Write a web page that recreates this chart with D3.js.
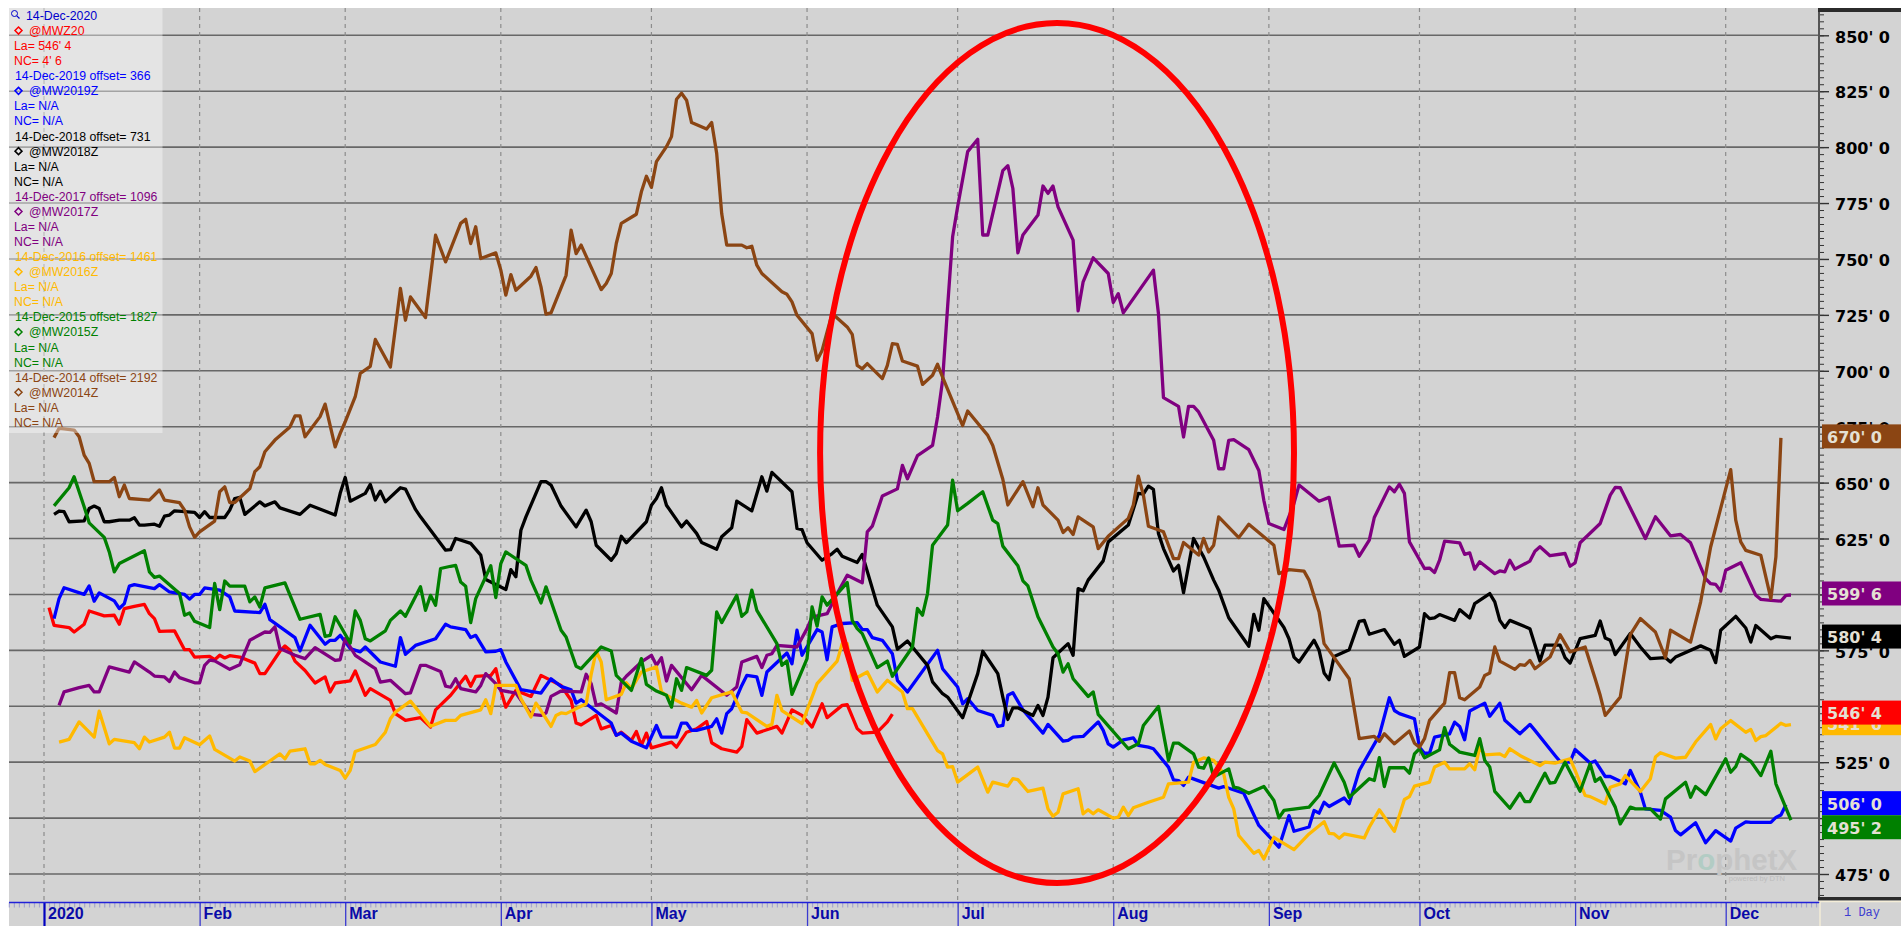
<!DOCTYPE html>
<html>
<head>
<meta charset="utf-8">
<title>Spring wheat seasonal chart</title>
<script src="https://cdn.jsdelivr.net/npm/d3@7"></script>
<style>
html, body { margin: 0; padding: 0; background: #fff; overflow: hidden; }
svg { display: block; }
</style>
</head>
<body>
<div id="chart"></div>
<script>
// days are counted from 1 Jan 2020, prices are cents/bushel
var monthDays = [0, 31, 60, 91, 121, 152, 182, 213, 244, 274, 305, 335];
var monthLabels = ['2020', 'Feb', 'Mar', 'Apr', 'May', 'Jun', 'Jul', 'Aug', 'Sep', 'Oct', 'Nov', 'Dec'];

var priceTicks = [475, 500, 525, 550, 575, 600, 625, 650, 675, 700, 725, 750, 775, 800, 825, 850];
// these two sit fully behind the last value tags
var hiddenPriceLabels = [500, 600];

var redDays = [1,2,5,6,8,9,12,14,15,16,18,20,21,22,23,26,28,29,30,33,34,35,36,37,39,42,43,44,47,48,49,50,52,54,56,57,58,61,62,64,65,69,70,72,75,77,78,81,84,85,86,89,90,91,92,94,97,99,103,105,106,107,110,111,113,114,115,117,118,119,120,121,125,126,128,130,132,133,135,138,139,140,142,146,147,149,151,153,155,156,159,160,162,163,166,168,169];
var redPrices = [594.1,586.2,585.2,583.2,586.7,592.6,590.4,590.7,586.7,593.7,594.7,595.5,591.4,589.2,583.5,583.7,575.3,575.3,572,572.3,570.8,572.8,571.6,572.6,572,569.3,564.6,564.6,574.6,577,575,570.2,566,560.4,563.1,556.4,560.4,561.3,565.8,554.9,557.9,552.6,546.7,543.7,544.9,540.7,548.4,554.9,563.4,558.9,563.4,563.8,566.8,557.1,549.6,557.1,554.4,563.8,559.3,552.6,542.5,541.7,545.9,539.9,541.4,537,538.4,534.7,538.7,532.5,538,531.4,534,531.7,538.4,539.9,543.2,533.7,531,529.5,532,544,538,541,538,548.4,545.9,540.7,551.1,544.9,550.4,550.7,540,538,538.4,543,546.5];

var blueDays = [2,3,4,8,9,10,11,14,15,16,17,18,22,23,25,28,29,30,31,32,35,37,38,43,44,45,50,51,53,56,57,58,59,61,63,64,67,70,71,72,74,78,80,81,84,85,86,88,90,91,92,95,99,101,103,105,106,107,113,114,115,117,120,122,123,126,127,128,129,130,133,134,135,136,137,139,140,142,143,144,148,149,150,151,154,155,156,157,159,162,163,164,165,167,169,170,172,178,179,182,183,184,186,189,190,191,192,193,195,199,200,203,204,205,207,210,211,212,213,215,217,218,220,221,224,225,226,227,228,234,235,239,242,246,248,249,252,253,254,255,256,259,260,262,266,268,269,270,273,274,275,276,277,280,281,282,283,284,287,288,290,291,294,296,297,301,302,304,305,308,309,311,312,314,315,316,318,319,322,324,325,326,329,331,333,336,337,339,340,344,345,346,347];
var bluePrices = [589.2,598.1,603,600,603.8,597,600.7,597.1,593.7,595.9,603.7,604.4,602.6,604.4,601.1,600,597.9,600,600,602.9,601.9,598.9,592.6,591.9,595.6,588.7,580.7,574.7,586.2,577.7,579.5,579.5,581.7,575.8,574.3,576.5,569.8,567.9,580.7,573.2,577.2,580.2,586.7,585.5,584.3,580.7,581.7,574.3,574.6,575.3,569.8,557.4,555.9,562.3,558.9,557.4,551.4,552.9,542.5,537,538,534.4,531.4,541.4,536.2,536.2,542.5,542.5,539.2,539.2,541,544.4,538,546.7,548.9,559.3,563.8,563.1,554.9,565.3,573.8,569,584,572.8,584.3,583.2,570.8,585.5,587,587.4,584.3,584.3,580.7,579.5,573.5,561.6,556.4,575,566.8,558.6,551.1,553.4,548.1,545.9,541,541.4,554.9,556.1,548.4,538,541.9,534.4,534.7,536.2,536.5,543,539.2,533.2,531.7,535,535.9,532.5,531.7,531,522.8,517.1,516.8,514.6,518.3,513.4,514.1,511.1,496.7,487,501.1,494.1,496,503.4,502.2,507.1,505.2,509,506.4,521.3,537,553.8,548.1,546.7,544.4,531.7,529,529,536.2,537.7,542.9,541,535,547.9,551.4,545.5,551.4,543.7,537.7,541.9,539.2,528,525.3,525,530.7,524.6,525.5,518.6,518.6,516.5,515.3,521.3,511.6,504.1,503.4,500.4,494.4,492.5,497.9,489,494.4,489.7,495.5,498.3,498.1,498.1,500.3,501.4,506];

var blackDays = [2,3,4,5,8,9,10,11,12,13,15,17,18,19,20,22,23,24,25,26,30,31,32,33,36,37,38,39,40,43,44,46,47,51,53,58,59,60,61,64,65,66,67,68,71,72,74,75,80,81,82,85,87,88,92,93,94,95,96,99,100,101,103,106,108,109,110,113,114,115,116,120,121,122,123,124,127,128,130,131,134,135,137,138,141,143,144,145,149,150,151,152,155,157,158,159,162,163,166,169,170,172,176,177,179,180,183,186,187,190,191,192,193,194,197,198,199,200,201,204,205,206,207,208,211,212,216,218,219,220,221,222,223,225,226,227,229,231,233,234,236,240,241,242,243,247,248,249,250,253,254,255,256,257,260,261,262,263,264,267,269,270,271,274,275,276,277,278,281,282,284,285,288,289,290,291,292,296,298,299,302,303,304,306,309,310,311,312,313,316,318,320,323,324,325,330,332,333,334,337,339,340,341,344,345,348];
var blackPrices = [635.8,637.3,637,632.5,632.9,638.4,639.5,638.4,632.5,632.5,633.2,633.2,634.3,631,631,631.4,630.5,635,635.5,637.4,636.7,634.4,637,634.4,634.4,637.7,642.9,643.4,635.8,641.4,639.6,641.4,638.7,635.8,639.9,635.5,645.2,652.3,641.7,645.2,649.2,642.2,646.2,641.4,647.7,647.1,638,634.7,619.8,620,625,622.8,617.6,606.7,602.2,611.1,607.9,628.7,634.7,650.4,650.4,648.9,639.5,630.2,637.7,632.5,622,615.3,618.3,626,623.1,632.5,639.9,642.9,647.7,639.9,630.2,632.8,627.3,623.2,620.2,625.8,629.8,641.7,637.4,652.6,646.2,654.6,645.9,629.5,629,623.1,615.3,618.3,620.2,617.1,614.3,617.9,595.2,585.5,575.5,579.2,568.3,560.9,555.6,554.1,544.9,564.6,574.6,564.6,554.1,544.1,549.3,549.3,545.9,550.4,545.9,554.1,571.7,578,572.8,602.6,601.6,606.4,615,623.5,631,645.2,644.9,648.4,647,627.3,620.5,610.5,613,600.8,625,616.8,606.4,601.9,589.6,576.8,591.1,584,598.1,585.2,580.2,572,569.8,579.5,575,564.9,561.9,572.3,575.3,581.7,588,588.4,582.2,584.3,577.7,579.5,572.3,576.5,591.4,589.2,589.5,591,588.4,593.2,589.5,595.9,600.4,596.7,588.4,585.2,588.4,584.7,570.2,577.3,577.3,571.7,569.3,580.2,581.7,588.1,580.5,579.5,573.1,582.5,576.5,571.3,571.7,569.8,572,577,575,569.5,584,590.2,585,578.7,586.1,580.2,581.2,580.5];

var purpleDays = [3,4,7,9,10,11,13,17,18,21,22,24,25,26,27,30,31,32,33,34,37,39,41,44,45,46,47,50,52,54,58,59,60,62,66,67,69,72,73,75,76,79,80,81,82,83,86,87,88,90,91,94,97,99,100,101,103,107,108,109,110,111,114,115,116,119,121,122,123,124,125,129,131,136,138,139,142,143,144,145,146,150,152,153,156,158,160,163,164,165,167,170,171,172,174,177,178,179,180,181,182,184,186,187,188,191,192,193,194,195,198,199,200,201,202,205,206,207,209,212,213,214,215,221,222,223,226,227,228,229,230,233,234,235,236,237,240,242,243,244,247,249,250,254,256,258,261,262,264,265,268,269,270,271,272,275,276,277,278,279,282,283,284,285,286,289,290,291,292,293,296,297,298,300,303,304,305,306,310,312,313,314,319,321,324,326,328,331,332,333,334,335,338,341,342,344,346,347,348];
var purplePrices = [550.4,556.4,558.3,559.3,556.4,556.4,567.6,565.3,569.8,565.3,563.5,563.1,561.1,565.3,562.8,560.5,560.5,568.3,570.6,570.3,566.5,568.6,579.5,583.2,583,585.5,575.8,572.8,571.3,576.2,570.5,570.8,580.2,572.8,566.8,560.8,561.6,555.6,556,568.3,568.3,565.5,559,558.5,562.3,557.9,556.4,559.3,564.6,560.1,557.1,555.9,546.4,545.9,547,554.4,556.8,556.4,564.3,560.1,550.4,551.1,547,560.8,563.4,569.8,572.8,568.3,571.7,561.3,568.3,557.4,563.8,554.9,558.6,569.8,572.3,567.3,572.8,573.5,577.2,576.5,584.7,589.9,591.4,600.4,608.6,605.2,628,630.5,644,647.2,657.7,651.7,662.1,666.6,679.3,695.7,728.6,759.9,773.3,798,803.5,760.7,760.7,789.5,791.7,781.5,752.7,760.7,769.6,782.6,779.3,782.6,773.3,758.4,726.8,739.8,750.5,743.5,730.5,734.5,725.9,745,725.6,688,684.1,670.4,684.1,684.1,681.6,668.9,656.2,656.2,668.9,669.2,664.7,655.4,642,631.7,629,640.7,648.9,641.7,643.4,621.6,622,617.1,624.3,634.4,648.1,645.9,649.3,645.2,623.5,611.6,611.8,609.8,615.3,623.8,623.1,617.9,618.6,611.3,614.6,609.3,610.5,610.1,615.3,611.3,614.9,619.3,621.3,617.3,618.3,612.6,614.1,623.1,631.7,644.4,647.9,647.7,625,634.7,626.2,626.8,623.1,607,604.8,604.5,601.5,610.8,614.2,599.6,597.8,597.3,597,599.6,599.75];

var yellowDays = [3,5,7,10,11,13,14,18,19,20,21,24,25,26,27,28,31,33,34,38,39,41,42,47,48,49,52,53,54,55,56,59,60,61,62,66,68,69,70,73,75,77,80,82,83,87,88,89,90,94,95,97,98,99,101,102,103,104,108,109,110,111,112,115,116,117,119,122,123,124,127,129,130,131,133,137,139,140,144,145,146,147,151,154,158,159,160,161,164,166,168,171,172,173,178,179,180,181,182,186,188,189,192,193,194,196,199,200,201,202,203,206,207,208,209,210,213,214,215,216,217,220,223,224,228,229,231,233,235,236,237,238,241,242,243,245,249,252,255,256,257,258,259,263,264,266,269,271,272,273,276,277,279,280,283,284,285,286,287,290,291,292,294,298,299,301,304,305,307,308,311,312,314,315,318,320,321,322,325,327,329,332,333,334,336,339,340,341,342,343,346,347,348];
var yellowPrices = [534,535.2,543,536.2,547.8,533.2,535.2,533.7,531,536.2,534,536.2,538.4,531.3,531.3,535.9,532.8,536.7,530.7,525.5,527.3,525.5,520.8,528.7,526.5,529.9,531,524.3,524.3,525.8,524,521.3,517.9,521.3,529.8,532.9,538.4,544.4,547.4,552.3,546.7,541.1,543.7,543.7,545.9,548.4,552.9,546.7,559.3,559.3,553.4,545.2,551.4,548.1,541,545.9,547,546.7,551.1,564.3,574.6,569.8,552.9,555.3,560.5,557.9,565.3,567.6,556.4,554.9,551.4,549.6,552.6,547,553.8,556.4,547.4,547,541,541.9,554.9,548.1,542.2,560.1,570.2,578,578,561.6,565.3,556.4,561.6,556.4,548.9,548.9,530.2,528.7,522.8,523,516.1,522.8,511.6,516.1,514.3,517.6,517.2,511.9,513.4,504.1,500.8,502.6,510.8,513.1,501.9,503.7,501.9,503.7,500,500.4,504.9,501.1,504.6,507.1,509.3,515.3,516.1,525,526.9,525.8,519.8,509.3,504.1,492.2,484.3,485.5,481.7,491.4,485.9,492.9,498.4,493.2,492.9,491,492.9,491.1,495.9,503.7,494.1,508.3,509.6,514.3,516.1,522.8,525,522,522,524.3,521.6,531.7,528.3,528.7,527.5,531,528,523.5,525,524.6,526.5,521.3,510.1,509.6,506.4,513.8,515.3,519,511.9,517.6,527.3,529.2,526.8,527.2,534,541.8,535.4,539.9,543.6,538.4,539.6,534.7,536.4,536.9,542.4,541.4,541.75];

var greenDays = [2,5,6,8,9,12,13,14,15,20,21,22,23,27,28,29,30,33,34,35,36,37,40,41,42,43,44,48,51,55,56,57,58,61,62,63,64,65,68,69,71,72,75,76,77,78,79,81,82,83,84,85,86,89,90,91,92,96,97,99,100,103,104,106,107,111,113,114,117,119,120,122,124,125,126,127,128,132,133,134,135,138,139,140,141,142,146,147,148,149,152,153,154,155,156,160,161,162,163,166,168,169,173,174,175,176,177,180,181,182,184,187,189,190,191,194,195,196,198,201,202,203,204,205,208,209,210,216,218,219,222,224,225,226,229,230,231,232,233,236,237,238,240,243,245,246,247,252,254,257,259,260,264,265,266,267,268,271,272,273,274,275,278,279,280,282,285,286,287,288,289,292,294,295,296,299,300,301,303,306,308,309,310,313,314,316,317,320,322,323,327,328,329,331,335,336,337,338,340,342,344,345,348];
var greenPrices = [639.6,647.7,652.6,639.2,632,625.5,619,610.1,613.8,619.5,610.1,607.6,608.2,600.4,590.7,591.7,588,585.2,604.9,593.2,606,603.7,603.7,596.7,598.9,594.4,602.9,605.2,588.9,591.1,581.3,581.7,590,578.3,592.6,588.4,580.2,579.2,583.7,588.4,592.6,590.2,603.4,592.9,599.6,595.2,611.6,612.6,613,605.6,603.7,587.4,598.1,612.8,598.6,613.8,619,613,606.4,596.2,603.4,584,581,567.9,566.8,576.5,574.7,563.8,557.1,571.3,559.8,556.8,554.9,549.6,562.3,557.1,567.3,563.8,566.1,592.2,587.4,599.6,590.2,592.2,601.9,592.9,578,568.3,570.2,555.3,571.3,594.4,585.8,598.9,595.2,605.3,588.4,584.7,582.5,567.3,570.2,563.4,576.5,593.7,590.7,600.4,622,631,651.1,637.4,640.7,645.9,633.2,631.7,621.6,612.8,606.1,603.8,590,576.5,573.5,565.3,569,562.3,554.4,556.4,546.4,531,533.2,541.4,549.9,525.8,533.5,533.5,528.7,522.8,522.3,526.9,518.3,522,513.8,513.4,511.1,514.1,507.9,500.1,503.4,504.9,510.1,524.6,516,509.3,517.6,516.8,527,514.1,522.5,522.5,520.1,528.7,531,527,530.5,540.4,533,529.5,528,535.5,525.8,522.8,511.9,504.4,511.1,507.4,507.4,520.1,515.6,516,525,512,524.3,516.4,518,504.9,497.4,504.9,504.1,504.1,499.6,508.6,516,509.3,514.1,510.5,526.5,520.5,523,528.5,525.4,519,529.9,515.3,499.1,495.25];

var brownDays = [2,3,4,6,7,8,9,10,13,14,15,16,17,21,23,24,27,28,29,30,31,34,35,36,37,38,41,42,43,44,46,49,50,51,52,55,56,58,59,60,62,63,65,66,69,71,72,73,76,78,80,83,84,85,86,87,90,91,92,93,94,97,98,99,100,101,104,105,106,107,111,112,113,114,115,118,119,120,121,122,124,125,126,127,128,129,132,133,134,135,136,139,140,141,142,143,147,148,149,150,153,154,155,157,160,161,162,163,164,167,168,169,170,171,174,175,177,178,179,183,184,188,189,191,192,195,197,198,199,202,203,204,205,206,209,210,212,216,217,218,219,220,223,225,226,227,230,231,232,233,234,238,240,245,246,248,251,252,254,255,260,262,265,266,267,269,272,273,274,275,276,279,280,281,282,283,286,287,288,289,290,293,294,295,296,297,300,302,304,307,309,310,311,314,316,318,321,323,324,328,330,332,336,337,338,339,342,344,345,346];
var brownPrices = [670.1,674.3,674,673.5,670.5,662.3,658.6,650.4,650.4,652.3,643.7,648.9,642.9,642.2,646.7,642.2,641,637.7,630.2,625.5,628,632.8,645.9,648.1,641.1,641.1,647.4,654.9,657.1,663.8,669,674.9,679.8,679.8,670.5,679.5,685.1,666,672,677.2,688.4,698.8,702,714,701.7,736.8,722.6,733,723.8,760.6,748.7,765.9,767.7,756.9,764.4,750.2,752.7,745,733.8,743,736,742.3,746.2,737.5,725.3,725.9,742.7,762.9,752.4,756.2,736.3,739,743.5,756.9,765.9,770,780,787,782,793.5,800.2,804.7,821.4,824.1,821,811,808.1,811,797.2,770.3,756.2,756.2,755,755.7,747.2,743.5,735.3,734.2,730.8,724.8,716.6,704.7,709.1,725.6,719.6,716.3,702.4,700.9,703.2,696.5,702.4,712.1,711.8,704.4,702.1,693.9,698,702.9,697.2,675.5,682,671.1,666.6,651.5,640,650.4,639.2,647.7,640,633.2,627.7,629.8,626.8,634.7,630.2,620.5,626,634,640,652.9,644.4,630.5,628,616,616,623.2,617.6,625,619,622,634.7,625.4,631.4,622,609.3,611.1,610.4,606.4,592.2,578,562.3,535.5,536.5,534.3,537.7,533.2,538.9,533.5,531.7,535.5,543.7,551.4,565,565,553.8,552.9,558.6,563.8,564.9,576.5,570.2,566.5,568.6,568.3,570.5,566.8,572,582,574.3,576.5,562.3,554.9,545.9,554.1,582,589.2,583.2,571.7,584,578.7,596.6,621.2,655.8,633.2,623.5,619.7,617.5,598.1,616.8,670];

// the hand drawn ring over the Jun-Sep window
var ringDays = [154.6, 249];
var ringPrices = [855.5, 471];

var lastPrices = [670, 599.75, 580.5, 541.75, 546.5, 506, 495.25];
var lastLabels = ["670' 0", "599' 6", "580' 4", "541' 6", "546' 4", "506' 0", "495' 2"];
var lastColors = ['#8b4513', '#800080', '#000000', '#ffb900', '#ff0000', '#0000ff', '#008000'];

var legendDate = ['14-Dec-2020', '14-Dec-2019 offset= 366', '14-Dec-2018 offset= 731', '14-Dec-2017 offset= 1096', '14-Dec-2016 offset= 1461', '14-Dec-2015 offset= 1827', '14-Dec-2014 offset= 2192'];
var legendSymbol = ['@MWZ20', '@MW2019Z', '@MW2018Z', '@MW2017Z', '@MW2016Z', '@MW2015Z', '@MW2014Z'];
var legendLast = ["La= 546' 4", 'La= N/A', 'La= N/A', 'La= N/A', 'La= N/A', 'La= N/A', 'La= N/A'];
var legendChange = ["NC= 4' 6", 'NC= N/A', 'NC= N/A', 'NC= N/A', 'NC= N/A', 'NC= N/A', 'NC= N/A'];
var legendColors = ['#ff0000', '#0000ff', '#000000', '#800080', '#ffb900', '#008000', '#8b4513'];

var svgWidth = 1901;
var svgHeight = 926;
var bg = '#d3d3d3';

var margin = { left: 9, top: 8, bottom: 29, right: 82 };
var plotRight = svgWidth - margin.right;
var plotBottom = svgHeight - margin.bottom;

var jan1 = Date.UTC(2020, 0, 1);
function dayDate(d) { return new Date(jan1 + d * 864e5); }

var xScale = d3.scaleUtc()
    .domain([dayDate(0), dayDate(335)])
    .range([44, 1725.7]);

var yScale = d3.scaleLinear()
    .domain([475, 850])
    .range([874, 35.3]);

var svg = d3.select('#chart').append('svg')
    .attr('width', svgWidth)
    .attr('height', svgHeight);

svg.append('rect')
    .attr('x', margin.left)
    .attr('y', margin.top)
    .attr('width', svgWidth - margin.left)
    .attr('height', svgHeight - margin.top)
    .attr('fill', bg);

// horizontal grid
svg.append('g').selectAll('line')
    .data(priceTicks)
    .enter().append('line')
    .attr('x1', margin.left)
    .attr('x2', plotRight)
    .attr('y1', d => yScale(d))
    .attr('y2', d => yScale(d))
    .attr('stroke', '#676767')
    .attr('stroke-width', 1.6);

// month grid
svg.append('g').selectAll('line')
    .data(monthDays)
    .enter().append('line')
    .attr('x1', d => xScale(dayDate(d)))
    .attr('x2', d => xScale(dayDate(d)))
    .attr('y1', margin.top)
    .attr('y2', plotBottom + 3)
    .attr('stroke', '#8c8c8c')
    .attr('stroke-width', 1.2)
    .attr('stroke-dasharray', '4,4');

// watermark
var mark = svg.append('text')
    .attr('x', 1666)
    .attr('y', 870)
    .attr('font-family', 'Liberation Sans, Arial, sans-serif')
    .attr('font-weight', 'bold')
    .attr('font-size', 29.5)
    .attr('fill', '#c5c5c5');
mark.append('tspan').text('Pr');
mark.append('tspan').attr('fill', '#b2ccc4').text('o');
mark.append('tspan').text('phetX');

svg.append('text')
    .attr('x', 1785)
    .attr('y', 881)
    .attr('text-anchor', 'end')
    .attr('font-family', 'Liberation Sans, Arial, sans-serif')
    .attr('font-size', 7.5)
    .attr('fill', '#bdbdbd')
    .text('powered by DTN');

// price lines, oldest contract last so it sits on top
var line = d3.line()
    .x(d => xScale(dayDate(d[0])))
    .y(d => yScale(d[1]));

var seriesData = [
    { days: redDays, prices: redPrices, color: '#ff0000' },
    { days: blueDays, prices: bluePrices, color: '#0000ff' },
    { days: blackDays, prices: blackPrices, color: '#000000' },
    { days: purpleDays, prices: purplePrices, color: '#800080' },
    { days: yellowDays, prices: yellowPrices, color: '#ffb900' },
    { days: greenDays, prices: greenPrices, color: '#008000' },
    { days: brownDays, prices: brownPrices, color: '#8b4513' }
];

svg.append('g').selectAll('path')
    .data(seriesData)
    .enter().append('path')
    .attr('d', d => line(d3.zip(d.days, d.prices)))
    .attr('fill', 'none')
    .attr('stroke', d => d.color)
    .attr('stroke-width', 3.3)
    .attr('stroke-linejoin', 'round');

// legend panel is see through
svg.append('rect')
    .attr('x', margin.left)
    .attr('y', margin.top)
    .attr('width', 153.5)
    .attr('height', 425)
    .attr('fill', '#fff')
    .attr('fill-opacity', 0.4);

var legendRows = [];
legendDate.forEach((date, i) => {
    legendRows.push({ text: date, color: i === 0 ? '#0000cc' : legendColors[i], x: i === 0 ? 26 : 15 });
    legendRows.push({ text: legendSymbol[i], color: legendColors[i], x: 29, symbol: true });
    legendRows.push({ text: legendLast[i], color: legendColors[i], x: 14 });
    legendRows.push({ text: legendChange[i], color: legendColors[i], x: 14 });
});

var legendRow = i => 20 + i * 15.07;

svg.append('g').selectAll('text')
    .data(legendRows)
    .enter().append('text')
    .attr('x', d => d.x)
    .attr('y', (d, i) => legendRow(i))
    .attr('font-family', 'Liberation Sans, Arial, sans-serif')
    .attr('font-size', 12.3)
    .attr('fill', d => d.color)
    .text(d => d.text);

legendRows.forEach((d, i) => {
    if (!d.symbol) return;
    svg.append('path')
        .attr('transform', `translate(18.5,${legendRow(i) - 4.5})`)
        .attr('d', 'M0,-3.5L3.5,0L0,3.5L-3.5,0Z')
        .attr('fill', 'none')
        .attr('stroke', d.color)
        .attr('stroke-width', 1.5);
});

// magnifier in front of the first date
svg.append('circle')
    .attr('cx', 14.5)
    .attr('cy', 13.5)
    .attr('r', 3)
    .attr('fill', 'none')
    .attr('stroke', '#0000cc');
svg.append('path')
    .attr('d', 'M16.8,15.8L19.5,18.5')
    .attr('stroke', '#0000cc')
    .attr('stroke-width', 1.2);

// the annotation ring
svg.append('ellipse')
    .attr('cx', (xScale(dayDate(ringDays[0])) + xScale(dayDate(ringDays[1]))) / 2)
    .attr('cy', (yScale(ringPrices[0]) + yScale(ringPrices[1])) / 2)
    .attr('rx', (xScale(dayDate(ringDays[1])) - xScale(dayDate(ringDays[0]))) / 2)
    .attr('ry', (yScale(ringPrices[1]) - yScale(ringPrices[0])) / 2)
    .attr('fill', 'none')
    .attr('stroke', '#ff0000')
    .attr('stroke-width', 6);

// right price axis
var minorAxis = d3.axisRight(yScale)
    .tickValues(d3.range(462.5, 860, 3.125))
    .tickSize(5)
    .tickFormat('');

svg.append('g')
    .attr('class', 'y-minor')
    .attr('transform', `translate(${plotRight},0)`)
    .call(minorAxis)
    .call(g => g.select('.domain').remove())
    .call(g => g.selectAll('line').attr('stroke', '#333').attr('stroke-width', 1));

var priceAxis = d3.axisRight(yScale)
    .tickValues(priceTicks)
    .tickSize(10)
    .tickPadding(6)
    .tickFormat(d => hiddenPriceLabels.includes(d) ? '' : `${d}' 0`);

svg.append('g')
    .attr('class', 'y-axis')
    .attr('transform', `translate(${plotRight},0)`)
    .call(priceAxis)
    .call(g => g.select('.domain').remove())
    .call(g => g.selectAll('line').attr('stroke', '#333').attr('stroke-width', 1.4))
    .call(g => g.selectAll('text')
        .attr('font-family', 'DejaVu Sans, sans-serif')
        .attr('font-weight', 'bold')
        .attr('font-size', 16)
        .attr('fill', '#000')
        .attr('dy', '0.42em'));

svg.append('line')
    .attr('x1', plotRight)
    .attr('x2', plotRight)
    .attr('y1', margin.top)
    .attr('y2', plotBottom + 3)
    .attr('stroke', '#555')
    .attr('stroke-width', 2);

svg.append('rect')
    .attr('x', plotRight - 1)
    .attr('y', margin.top)
    .attr('width', margin.right + 1)
    .attr('height', 4)
    .attr('fill', '#2b2b2b');

svg.append('rect')
    .attr('x', plotRight - 1)
    .attr('y', plotBottom)
    .attr('width', margin.right + 1)
    .attr('height', 3.5)
    .attr('fill', '#2b2b2b');

// last value tags
var tags = svg.append('g').selectAll('g')
    .data(lastPrices)
    .enter().append('g')
    .attr('transform', d => `translate(${plotRight + 3},${yScale(d) - 1.5})`);

tags.append('rect')
    .attr('y', -12)
    .attr('width', margin.right - 3)
    .attr('height', 24)
    .attr('fill', (d, i) => lastColors[i]);

tags.append('text')
    .attr('x', 5)
    .attr('y', 6.5)
    .attr('font-family', 'DejaVu Sans, sans-serif')
    .attr('font-weight', 'bold')
    .attr('font-size', 16)
    .attr('fill', '#e4e0d4')
    .text((d, i) => lastLabels[i]);

// time axis: one tick a day, a long one at each month
var dayAxis = d3.axisBottom(xScale)
    .tickValues(d3.range(-7, 349 + 17).map(dayDate))
    .tickSize(5)
    .tickFormat('');

svg.append('g')
    .attr('transform', `translate(0,902.5)`)
    .call(dayAxis)
    .call(g => g.select('.domain').remove())
    .call(g => g.selectAll('line').attr('stroke', '#a6a6cf').attr('stroke-width', 1.2));

var monthAxis = d3.axisBottom(xScale)
    .tickValues(monthDays.map(dayDate))
    .tickSize(24)
    .tickFormat((d, i) => monthLabels[i]);

svg.append('g')
    .attr('transform', `translate(0,902.5)`)
    .call(monthAxis)
    .call(g => g.select('.domain').remove())
    .call(g => g.selectAll('line')
        .attr('stroke', (d, i) => i === 0 ? '#0000c0' : '#3a3ad0')
        .attr('stroke-width', (d, i) => i === 0 ? 2.2 : 1.3))
    .call(g => g.selectAll('text')
        .attr('text-anchor', 'start')
        .attr('x', 3.5)
        .attr('y', 0)
        .attr('dy', 0)
        .attr('transform', 'translate(0,16)')
        .attr('font-family', 'Liberation Sans, Arial, sans-serif')
        .attr('font-weight', 'bold')
        .attr('font-size', 16)
        .attr('fill', '#0a0aa8'));

svg.append('line')
    .attr('x1', margin.left)
    .attr('x2', plotRight)
    .attr('y1', 902.5)
    .attr('y2', 902.5)
    .attr('stroke', '#2020d8')
    .attr('stroke-width', 1.4);

// interval box in the corner
svg.append('rect')
    .attr('x', plotRight + 1)
    .attr('y', 901.5)
    .attr('width', margin.right)
    .attr('height', 26)
    .attr('fill', bg)
    .attr('stroke', '#f4edd8')
    .attr('stroke-width', 1.5);

svg.append('text')
    .attr('x', 1844)
    .attr('y', 916)
    .attr('font-family', 'Liberation Mono, monospace')
    .attr('font-size', 12)
    .attr('fill', '#3c3cd0')
    .text('1 Day');
</script>
</body>
</html>
